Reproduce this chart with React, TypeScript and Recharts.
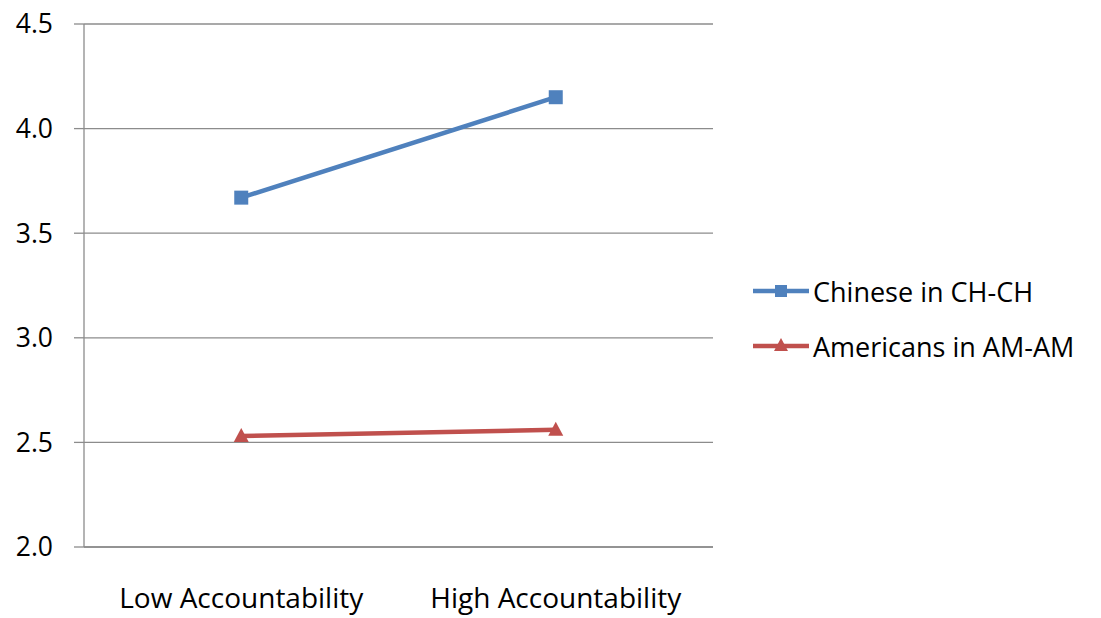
import React from 'react';
import { LineChart, Line, XAxis, YAxis, CartesianGrid, Legend } from 'recharts';

const categories = ['Low Accountability', 'High Accountability'];
const chineseValues = [3.67, 4.15];
const americanValues = [2.53, 2.56];
const seriesNames = ['Chinese in CH-CH', 'Americans in AM-AM'];
const yTicks = [2.0, 2.5, 3.0, 3.5, 4.0, 4.5];
const edgeTicks = [0, 1, 2];

const data = categories.map((c, i) => ({
  name: c,
  chinese: chineseValues[i],
  american: americanValues[i],
}));

const FONT = '"Open Sans", Lato, sans-serif';
const FS = 26.5;
const FSL = 27;
const FSX = 28;
const GRID = '#8c8c8c';
const BLUE = '#4F81BD';
const RED = '#C0504D';

const SquareDot = (props: any) => {
  const { cx, cy } = props;
  if (cx == null || cy == null) return null;
  return <rect x={cx - 7} y={cy - 7} width={14} height={14} fill={BLUE} />;
};

const TriangleDot = (props: any) => {
  const { cx, cy } = props;
  if (cx == null || cy == null) return null;
  return (
    <polygon
      points={`${cx},${cy - 8} ${cx + 7.5},${cy + 6} ${cx - 7.5},${cy + 6}`}
      fill={RED}
    />
  );
};

const renderLegend = (props: any) => {
  const payload = [...(props.payload || [])].sort(
    (a: any, b: any) => seriesNames.indexOf(a.value) - seriesNames.indexOf(b.value)
  );
  return (
    <div style={{ paddingLeft: 40, paddingTop: 19 }}>
      {payload.map((entry: any, i: number) => (
        <div key={i} style={{ display: 'flex', alignItems: 'center', height: 55 }}>
          <svg width={56} height={20} style={{ display: 'block', flexShrink: 0 }}>
            <line x1={0} y1={10} x2={56} y2={10} stroke={entry.color} strokeWidth={4.5} />
            {entry.type === 'square' ? (
              <rect x={22} y={4} width={12} height={12} fill={entry.color} />
            ) : (
              <polygon points="28,2 35,15 21,15" fill={entry.color} />
            )}
          </svg>
          <span style={{ marginLeft: 4, fontSize: FSL, fontFamily: FONT, color: '#000', whiteSpace: 'nowrap', lineHeight: 1 }}>
            {entry.value}
          </span>
        </div>
      ))}
    </div>
  );
};

export default function App() {
  return (
    <div style={{ position: 'absolute', left: 0, top: 0, width: 1101, height: 618, background: '#fff' }}>
      <LineChart
        width={1101}
        height={618}
        data={data}
        margin={{ top: 24, right: 58, bottom: 0, left: 0 }}
      >
        <CartesianGrid horizontal vertical={false} stroke={GRID} strokeWidth={1.3} xAxisId="cat" />
        <XAxis
          xAxisId="edge"
          type="number"
          domain={[0, 2]}
          ticks={edgeTicks}
          tick={false}
          height={0}
          axisLine={false}
          tickLine={{ stroke: GRID, strokeWidth: 1.3 }}
          tickSize={10}
        />
        <XAxis
          xAxisId="cat"
          dataKey="name"
          scale="band"
          height={71}
          axisLine={{ stroke: GRID, strokeWidth: 1.3 }}
          tickLine={false}
          tickMargin={35}
          tick={{ fill: '#000', fontSize: FSX, fontFamily: FONT }}
        />
        <YAxis
          domain={[2, 4.5]}
          ticks={yTicks}
          width={84}
          tickSize={10}
          tickMargin={21}
          axisLine={{ stroke: GRID, strokeWidth: 1.3 }}
          tickLine={{ stroke: GRID, strokeWidth: 1.3 }}
          tickFormatter={(v: number) => v.toFixed(1)}
          tick={{ fill: '#000', fontSize: FS, fontFamily: FONT }}
        />
        <Legend
          layout="vertical"
          align="right"
          verticalAlign="middle"
          width={330}
          content={renderLegend}
        />
        <Line
          xAxisId="cat"
          dataKey="chinese"
          name={seriesNames[0]}
          stroke={BLUE}
          strokeWidth={4.5}
          legendType="square"
          dot={<SquareDot />}
          activeDot={false}
          isAnimationActive={false}
        />
        <Line
          xAxisId="cat"
          dataKey="american"
          name={seriesNames[1]}
          stroke={RED}
          strokeWidth={4.5}
          legendType="triangle"
          dot={<TriangleDot />}
          activeDot={false}
          isAnimationActive={false}
        />
      </LineChart>
    </div>
  );
}
